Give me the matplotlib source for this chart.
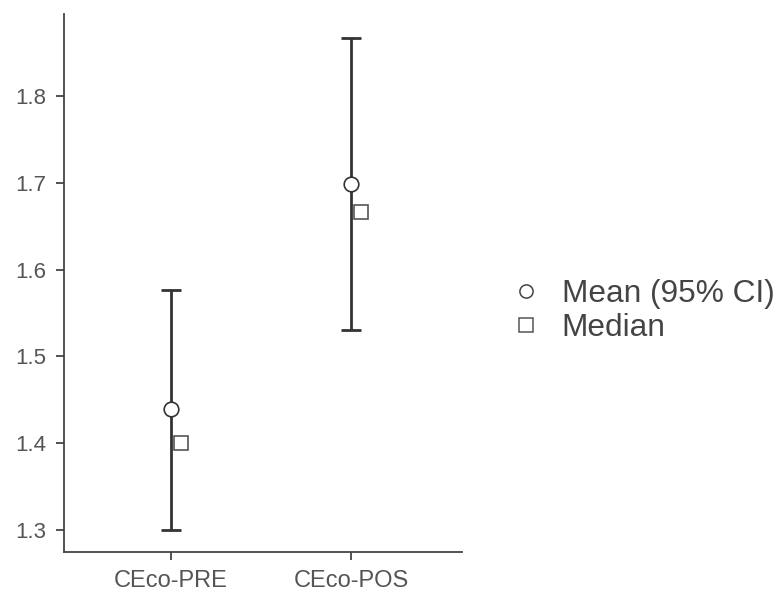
import numpy as np
import matplotlib.pyplot as plt
from matplotlib.lines import Line2D

plt.rcParams['font.family'] = ['Liberation Sans', 'DejaVu Sans']

# data
groups = ["CEco-PRE", "CEco-POS"]
means = [1.439, 1.699]
ci_low = [1.300, 1.531]
ci_high = [1.577, 1.866]
medians = [1.400, 1.666]

x = np.arange(len(groups))
means = np.array(means)
yerr = [means - np.array(ci_low), np.array(ci_high) - means]

fig = plt.figure(figsize=(7.8, 5.97), dpi=100, facecolor="white")
ax = fig.add_axes([0.082, 0.0754, 0.51, 0.901])

line_col = "#333333"
ax.errorbar(x, means, yerr=yerr, fmt="none", ecolor=line_col,
            elinewidth=2.0, capsize=7, capthick=2.0, zorder=2)
ax.plot(x, means, "o", ms=10.5, mfc="white", mec=line_col, mew=1.2, zorder=3)
ax.plot(x + 0.055, medians, "s", ms=10, mfc="white", mec="#555555",
        mew=1.2, zorder=3)

ax.set_xlim(-0.59, 1.61)
ax.set_ylim(1.275, 1.894)
ax.set_xticks(x)
ax.set_xticklabels(groups)
ax.set_yticks([1.3, 1.4, 1.5, 1.6, 1.7, 1.8])

for side in ["top", "right"]:
    ax.spines[side].set_visible(False)
for side in ["left", "bottom"]:
    ax.spines[side].set_color("#444444")
    ax.spines[side].set_linewidth(1.3)
ax.tick_params(colors="#444444", labelcolor="#555555",
               length=6, width=1.3, pad=7)
ax.tick_params(axis="y", labelsize=16)
ax.tick_params(axis="x", labelsize=17)

handles = [
    Line2D([], [], ls="none", marker="o", ms=9.5, mfc="white", mec="#444444", mew=1.1),
    Line2D([], [], ls="none", marker="s", ms=9.5, mfc="white", mec="#555555", mew=1.1),
]
fig.legend(handles, ["Mean (95% CI)", "Median"], loc="center left",
           bbox_to_anchor=(0.654, 0.479), frameon=False, fontsize=22.8,
           labelcolor="#444444", handletextpad=0.63, labelspacing=0.15,
           handlelength=1.0, borderpad=0, borderaxespad=0)

plt.savefig("out.png", dpi=100)
